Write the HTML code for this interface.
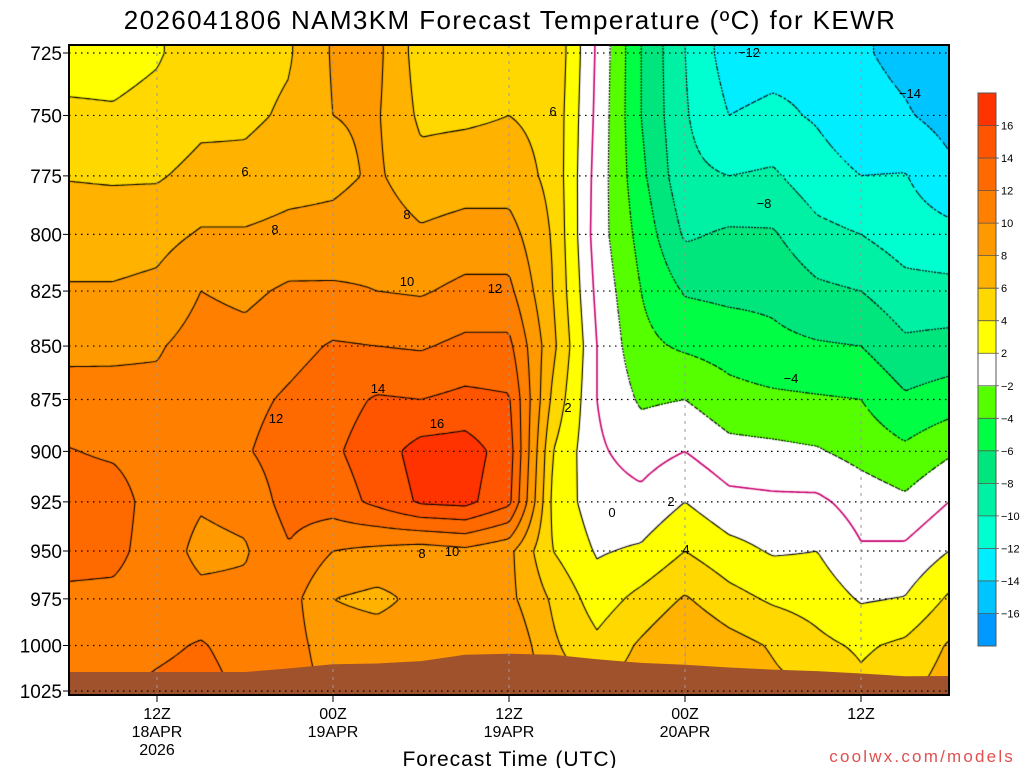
<!DOCTYPE html>
<html><head><meta charset="utf-8">
<style>
body{margin:0;background:#fff;width:1024px;height:768px;overflow:hidden;position:relative;font-family:"Liberation Sans",sans-serif}
canvas,svg{position:absolute;left:0;top:0}
</style></head>
<body>
<canvas id="cv" width="1024" height="768"></canvas>
<svg id="ov" width="1024" height="768"></svg>
<script>
const hours=[0,3,6,9,12,15,18,21,24,27,30,33,36,39,42,45,48,51,54,57,60];
const levels=[725,750,775,800,825,850,875,900,925,950,975,1000,1025];
const t725=[3.3,3.3,3.8,5,5.3,5.8,8.2,8.5,5,5,5.5,5.8,-0.3,-6,-10,-13,-12.7,-12.5,-13.8,-14.5,-15.5];
const t750=[4.3,4.2,4.6,5.5,5.6,6.3,8,8.2,5.6,5.7,6,5.5,-0.5,-6,-9.8,-12,-11.6,-12.2,-13.3,-13.8,-14.7];
const t775=[5.9,5.8,5.8,6.6,6.6,7.2,7.5,8.3,6.7,7,7,5.5,-0.8,-5.5,-9.5,-10,-9.7,-11.2,-12,-11.9,-13.5];
const t800=[7,7,7.3,8.2,8.2,8.6,8.7,9.2,8.3,8.8,8.8,5.8,-1,-4.7,-8.3,-7.7,-7.8,-9.4,-10,-11,-11.4];
const t825=[8.2,8.2,8.5,10,9.6,10.3,10.3,10,9.8,10.5,10.5,6,-0.5,-4,-6.2,-6.5,-6.5,-7.6,-8,-9.3,-9.4];
const t850=[9.5,9.7,9.8,10.8,10.6,11.3,12.2,12,11.8,12.5,12.5,6.5,0,-3.5,-4.3,-4.8,-5.5,-5.8,-6,-7.6,-7.3];
const t875=[10.8,10.5,10.5,11,11.4,12.3,13.2,14.2,14,14.5,14.2,5.5,0,-2.3,-2,-3.3,-3.6,-3.8,-4,-5.7,-5];
const t900=[12.1,11.7,11,11,11.8,13,13.7,15,16.8,17,15,4,0.3,-0.8,0,-1.3,-1.5,-1.8,-2.7,-3.6,-2.3];
const t925=[13,13,11,10.2,10.6,12.8,13,14.5,16.3,16.6,14.5,3.5,0.8,0.5,2,0.6,0.4,0.4,-0.8,-1.6,0];
const t950=[12.7,12.6,11,9.5,9.8,11.8,10,9.5,9,9.5,8.5,4,1.8,2.3,4,2.7,1.8,2,0.2,0.4,2];
const t975=[11.6,11.5,11,10.5,10.5,10.8,8,7.5,8.5,9,8.5,5.7,3,4.6,6.2,4.7,3.7,3.2,1.8,2.1,4.3];
const t1000=[10.8,10.5,11.5,12.2,11,10.8,9,9,9,9.5,9.8,6.3,4.5,6.3,8,6.8,5.8,4.5,3.7,4.4,6.2];
const t1025=[12.2,12,12.5,13,11.5,11,9.5,9.5,9.5,10,10.5,7,6,7,8,7.5,6.5,6,4.5,5.5,7];
const temps=[t725,t750,t775,t800,t825,t850,t875,t900,t925,t950,t975,t1000,t1025];
const surfaceP=[1014.5,1014.5,1014.5,1014.5,1014.5,1012.5,1010.2,1009.8,1008.5,1005,1004.5,1005,1007.5,1009.5,1010.5,1012,1013.2,1014,1015.3,1016.8,1016.7];
const yTicks=[725,750,775,800,825,850,875,900,925,950,975,1000,1025];
const xTickHours=[6,18,30,42,54];
const xTickLabels=[["12Z","18APR","2026"],["00Z","19APR"],["12Z","19APR"],["00Z","20APR"],["12Z"]];
const binEdges=[-16,-14,-12,-10,-8,-6,-4,-2,2,4,6,8,10,12,14,16];
const binColors=["#0099ff","#00c4ff","#00eeff","#00ffd0","#00f0a4","#00e67c","#00ff44","#55ff00","#ffffff","#ffff00","#ffd800","#ffb300","#ff9900","#ff8000","#ff6a00","#ff5500","#ff3300"];

const X0=69,X1=949,Y0=45,Y1=695;
const xs=h=>X0+(h-hours[0])*(X1-X0)/(hours[hours.length-1]-hours[0]);
const ys=p=>53+638*Math.log(p/725)/Math.log(1025/725);
const hOf=px=>hours[0]+(px-X0)*(hours[hours.length-1]-hours[0])/(X1-X0);
const pOf=py=>725*Math.exp((py-53)/638*Math.log(1025/725));
const lnL=levels.map(Math.log);
function T(h,p){
  const dh=hours[1]-hours[0];
  let fi=(h-hours[0])/dh; fi=Math.max(0,Math.min(hours.length-1.0001,fi));
  const i=Math.floor(fi),a=fi-i;
  const lp=Math.log(p);
  let j=0; while(j<levels.length-2 && lp>lnL[j+1]) j++;
  let b=(lp-lnL[j])/(lnL[j+1]-lnL[j]); b=Math.max(0,Math.min(1,b));
  const r0=temps[j],r1=temps[j+1];
  return (r0[i]*(1-a)+r0[i+1]*a)*(1-b)+(r1[i]*(1-a)+r1[i+1]*a)*b;
}
function hex(c){return [1,3,5].map(i=>parseInt(c.substr(i,2),16));}
const rgb=binColors.map(hex);

const cv=document.getElementById('cv'),ctx=cv.getContext('2d');
const img=ctx.createImageData(X1-X0,Y1-Y0);
for(let py=Y0;py<Y1;py++){const p=pOf(py);for(let px=X0;px<X1;px++){
  const t=T(hOf(px),p);let k=0;while(k<binEdges.length&&t>=binEdges[k])k++;
  const c=rgb[k],o=((py-Y0)*(X1-X0)+(px-X0))*4;img.data[o]=c[0];img.data[o+1]=c[1];img.data[o+2]=c[2];img.data[o+3]=255;}}
ctx.putImageData(img,X0,Y0);

const S=3,nx=Math.ceil((X1-X0)/S)+1,ny=Math.ceil((Y1-Y0)/S)+1;
const G=[];for(let j=0;j<ny;j++){const r=[];const p=pOf(Y0+j*S);for(let i=0;i<nx;i++)r.push(T(hOf(X0+i*S),p));G.push(r);}
ctx.save();ctx.beginPath();ctx.rect(X0,Y0,X1-X0,Y1-Y0);ctx.clip();
for(let lv=-16;lv<=16;lv+=2){
  ctx.beginPath();
  for(let j=0;j<ny-1;j++)for(let i=0;i<nx-1;i++){
    const v=[G[j][i],G[j][i+1],G[j+1][i+1],G[j+1][i]];
    const P=[[i,j],[i+1,j],[i+1,j+1],[i,j+1]];
    const pts=[];
    for(let e=0;e<4;e++){const a=v[e],b=v[(e+1)%4];
      if((a<lv)!==(b<lv)){const f=(lv-a)/(b-a);const A=P[e],B=P[(e+1)%4];
        pts.push([X0+(A[0]+(B[0]-A[0])*f)*S,Y0+(A[1]+(B[1]-A[1])*f)*S]);}}
    for(let q=0;q+1<pts.length;q+=2){ctx.moveTo(pts[q][0],pts[q][1]);ctx.lineTo(pts[q+1][0],pts[q+1][1]);}
  }
  ctx.strokeStyle=lv===0?"#c8006e":"#000";ctx.lineWidth=lv===0?1.6:1.1;
  ctx.setLineDash(lv<0?[2,2]:[]);ctx.stroke();
}
ctx.restore();

const NS="http://www.w3.org/2000/svg",svg=document.getElementById('ov');
function el(tag,attrs,parent){const e=document.createElementNS(NS,tag);for(const k in attrs)e.setAttribute(k,attrs[k]);(parent||svg).appendChild(e);return e;}
let d=`M${X0},${Y1}`;hours.forEach((h,i)=>{d+=` L${xs(h)},${ys(surfaceP[i])}`;});d+=` L${X1},${Y1} Z`;
const ground=el('path',{d:d,fill:"#a0522d"});


yTicks.forEach(p=>{const y=ys(p);
  const g=el('line',{x1:X0,x2:X1,y1:y,y2:y,stroke:"#000","stroke-width":1.2,"stroke-dasharray":"1.5,4.5"});
  
  
  const tk=el('line',{x1:X0-6,x2:X0,y1:y,y2:y,stroke:"#000","stroke-width":1});
  
  
  const t=el('text',{x:X0-7,y:y+7,"text-anchor":"end","font-size":19,fill:"#000"});t.textContent=p;
  
  
});
xTickHours.forEach((h,i)=>{const x=xs(h);
  const g=el('line',{x1:x,x2:x,y1:Y0,y2:Y1,stroke:"#999","stroke-width":1,"stroke-dasharray":"3,5"});
  
  
  const tk=el('line',{x1:x,x2:x,y1:Y1,y2:Y1+7,stroke:"#000","stroke-width":1});
  
  
  xTickLabels[i].forEach((s,k)=>{const t=el('text',{x:x,y:719+k*18,"text-anchor":"middle","font-size":16,fill:"#000"});t.textContent=s;
    
    });
});
const frame=el('rect',{x:X0,y:Y0,width:X1-X0,height:Y1-Y0,fill:"none",stroke:"#000","stroke-width":2});


const cl=[[245,171,"6"],[275,229,"8"],[407,214,"8"],[407,281,"10"],[495,288,"12"],[378,388,"14"],[276,418,"12"],[437,423,"16"],[422,553,"8"],[452,551,"10"],[553,111,"6"],[568,407,"2"],[612,512,"0"],[671,501,"2"],[686,549,"4"],[749,52,"-12"],[764,203,"-8"],[791,378,"-4"],[910,93,"-14"]];
cl.forEach(c=>{const t=el('text',{x:c[0],y:c[1]+5,"text-anchor":"middle","font-size":13,fill:"#000"});t.textContent=c[2].replace('-','\u2212');
  
  });
const ti=el('text',{x:510,y:29,"text-anchor":"middle","font-size":26,fill:"#000","letter-spacing":"1.4"});ti.textContent="2026041806 NAM3KM Forecast Temperature (\u00baC) for KEWR";


const xt=el('text',{x:510,y:766,"text-anchor":"middle","font-size":21,fill:"#000","letter-spacing":"1"});xt.textContent="Forecast Time (UTC)";


const cr=el('text',{x:1015,y:762,"text-anchor":"end","font-size":17,fill:"#e05050","letter-spacing":"2.2"});cr.textContent="coolwx.com/models";


const CB={x:978,y:93,w:18,h:553},bh=CB.h/binColors.length;
binColors.forEach((c,k)=>{const r=el('rect',{x:CB.x,y:CB.y+CB.h-(k+1)*bh,width:CB.w,height:bh+0.5,fill:c});
  
  });
binEdges.forEach((v,k)=>{const y=CB.y+CB.h-(k+1)*bh;
  el('line',{x1:CB.x,x2:CB.x+CB.w+3,y1:y,y2:y,stroke:"#555","stroke-width":0.8});
  const t=el('text',{x:1001,y:y+4,"font-size":11,fill:"#000"});t.textContent=(v<0?"\u2212":"")+Math.abs(v);
  
  });
const cbf=el('rect',{x:CB.x,y:CB.y,width:CB.w,height:CB.h,fill:"none",stroke:"#555","stroke-width":1});


</script>
</body></html>
